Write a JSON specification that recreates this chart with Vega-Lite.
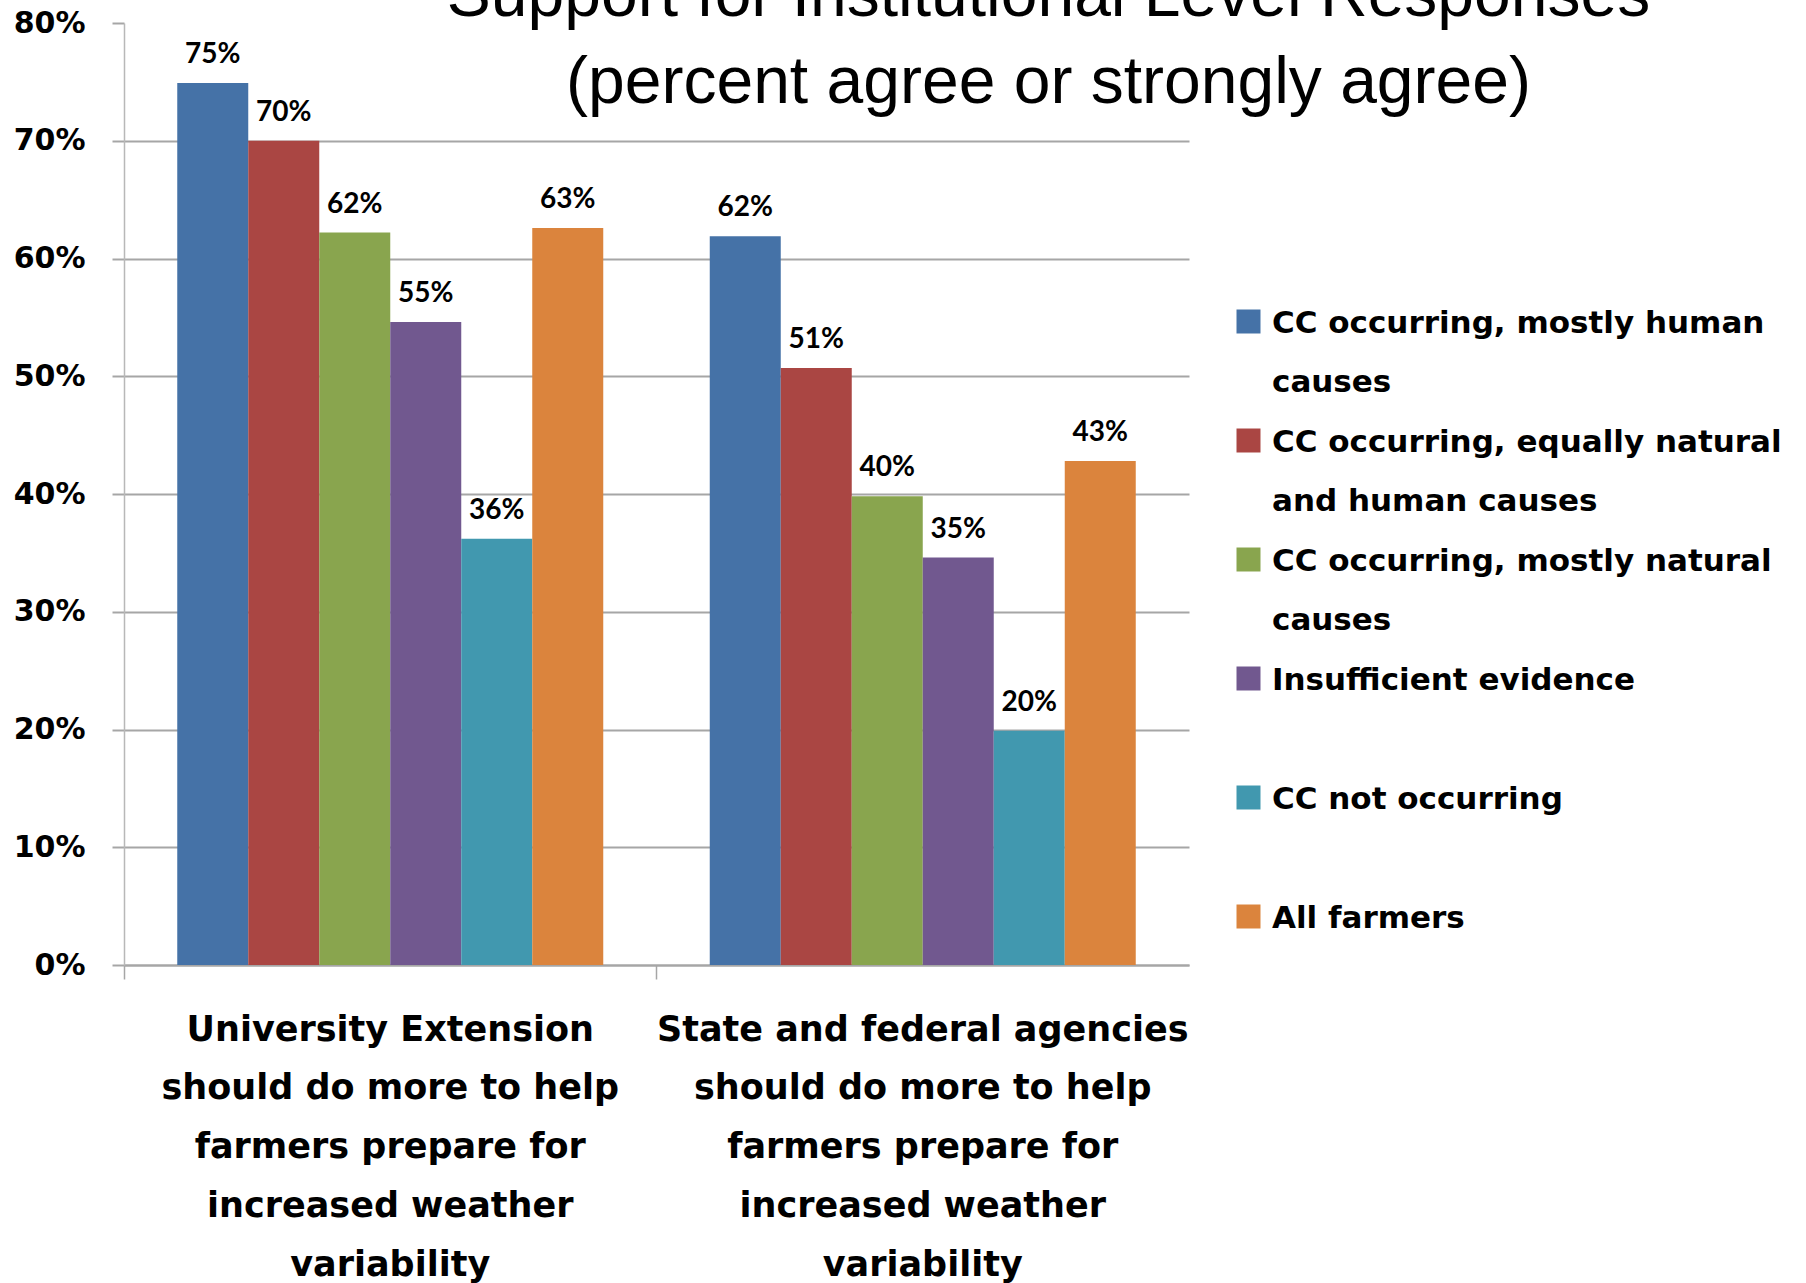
{
  "$schema": "https://vega.github.io/schema/vega-lite/v6.json",
  "autosize": {"type": "none"},
  "padding": {"left": 124, "top": 23, "right": 617, "bottom": 318},
  "width": 1065,
  "height": 942,
  "background": "white",
  "view": {"stroke": null},
  "title": {
    "text": ["Support for Institutional Level Responses", "(percent agree or strongly agree)"],
    "font": "Liberation Sans Narrow, Liberation Sans",
    "fontSize": 66,
    "fontWeight": "normal",
    "lineHeight": 87,
    "anchor": "middle",
    "frame": "group",
    "dx": 392,
    "baseline": "alphabetic",
    "offset": 0,
    "dy": 161,
    "color": "black"
  },
  "data": {
    "values": [
      {"group": "University Extension should do more to help farmers prepare for increased weather variability", "series": "CC occurring, mostly human causes", "value": 0.749},
      {"group": "University Extension should do more to help farmers prepare for increased weather variability", "series": "CC occurring, equally natural and human causes", "value": 0.700},
      {"group": "University Extension should do more to help farmers prepare for increased weather variability", "series": "CC occurring, mostly natural causes", "value": 0.622},
      {"group": "University Extension should do more to help farmers prepare for increased weather variability", "series": "Insufficient evidence", "value": 0.546},
      {"group": "University Extension should do more to help farmers prepare for increased weather variability", "series": "CC not occurring", "value": 0.362},
      {"group": "University Extension should do more to help farmers prepare for increased weather variability", "series": "All farmers", "value": 0.626},
      {"group": "State and federal agencies should do more to help farmers prepare for increased weather variability", "series": "CC occurring, mostly human causes", "value": 0.619},
      {"group": "State and federal agencies should do more to help farmers prepare for increased weather variability", "series": "CC occurring, equally natural and human causes", "value": 0.507},
      {"group": "State and federal agencies should do more to help farmers prepare for increased weather variability", "series": "CC occurring, mostly natural causes", "value": 0.398},
      {"group": "State and federal agencies should do more to help farmers prepare for increased weather variability", "series": "Insufficient evidence", "value": 0.346},
      {"group": "State and federal agencies should do more to help farmers prepare for increased weather variability", "series": "CC not occurring", "value": 0.199},
      {"group": "State and federal agencies should do more to help farmers prepare for increased weather variability", "series": "All farmers", "value": 0.428}
    ]
  },
  "encoding": {
    "x": {
      "field": "group",
      "type": "nominal",
      "sort": null,
      "scale": {"paddingInner": 0.2, "paddingOuter": 0.1},
      "axis": {
        "title": null,
        "labelAngle": 0,
        "bandPosition": -0.125,
        "tickSize": 14,
        "tickColor": "#a6a6a6",
        "tickWidth": 1.5,
        "domainColor": "#a6a6a6",
        "domainWidth": 2,
        "labelFont": "DejaVu Sans",
        "labelFontWeight": "bold",
        "labelFontSize": 35,
        "labelLineHeight": 58.8,
        "labelPadding": 33,
        "labelBaseline": "top",
        "labelAlign": "center",
        "labelColor": "black",
        "labelLimit": 1000,
        "labelExpr": "indexof(datum.label, 'University') == 0 ? ['University Extension', 'should do more to help', 'farmers prepare for', 'increased weather', 'variability'] : ['State and federal agencies', 'should do more to help', 'farmers prepare for', 'increased weather', 'variability']"
      }
    },
    "y": {
      "field": "value",
      "type": "quantitative",
      "scale": {"domain": [0, 0.8], "nice": false},
      "axis": {
        "title": null,
        "values": [0, 0.1, 0.2, 0.3, 0.4, 0.5, 0.6, 0.7, 0.8],
        "format": ".0%",
        "tickSize": 12,
        "tickColor": "#a6a6a6",
        "tickWidth": 2,
        "domainColor": "#b8b8b8",
        "domainWidth": 1.5,
        "grid": true,
        "gridColor": "#a6a6a6",
        "gridWidth": 2,
        "gridOpacity": {"condition": {"test": "datum.value >= 0.79", "value": 0}, "value": 1},
        "labelFont": "DejaVu Sans",
        "labelFontWeight": "bold",
        "labelFontSize": 30,
        "labelPadding": 27,
        "labelColor": "black"
      }
    }
  },
  "layer": [
    {
      "mark": {"type": "bar"},
      "encoding": {
        "xOffset": {
          "field": "series",
          "type": "nominal",
          "scale": {
            "domain": ["CC occurring, mostly human causes", "CC occurring, equally natural and human causes", "CC occurring, mostly natural causes", "Insufficient evidence", "CC not occurring", "All farmers"],
            "paddingInner": 0,
            "paddingOuter": 0
          }
        },
        "color": {
          "field": "series",
          "type": "nominal",
          "scale": {
            "domain": ["CC occurring, mostly human causes", "CC occurring, equally natural and human causes", "CC occurring, mostly natural causes", "Insufficient evidence", "CC not occurring", "All farmers"],
            "range": ["#4572A7", "#AA4643", "#89A54E", "#71588F", "#4198AF", "#DB843D"]
          },
          "legend": {
            "orient": "none",
            "legendX": 1109,
            "legendY": 283,
            "title": null,
            "padding": 0,
            "symbolType": "square",
            "symbolSize": 576,
            "symbolStrokeWidth": 0,
            "symbolOpacity": 1,
            "labelFont": "DejaVu Sans",
            "labelFontWeight": "bold",
            "labelFontSize": 31,
            "labelColor": "black",
            "labelOffset": 8,
            "labelLimit": 700,
            "rowPadding": 27,
            "labelExpr": "datum.label == 'CC occurring, mostly human causes' ? ['CC occurring, mostly human', 'causes'] : datum.label == 'CC occurring, equally natural and human causes' ? ['CC occurring, equally natural', 'and human causes'] : datum.label == 'CC occurring, mostly natural causes' ? ['CC occurring, mostly natural', 'causes'] : [datum.label, ' ']",
            "encode": {
              "labels": {"update": {"lineHeight": {"value": 59.5}, "dy": {"value": 2}}}
            }
          }
        }
      }
    },
    {
      "mark": {"type": "text", "font": "Lato", "fontWeight": "bold", "fontSize": 28, "baseline": "alphabetic", "dy": -20, "color": "black"},
      "encoding": {
        "xOffset": {
          "field": "series",
          "type": "nominal",
          "scale": {
            "domain": ["CC occurring, mostly human causes", "CC occurring, equally natural and human causes", "CC occurring, mostly natural causes", "Insufficient evidence", "CC not occurring", "All farmers"],
            "paddingInner": 0,
            "paddingOuter": 0
          }
        },
        "text": {"field": "value", "type": "quantitative", "format": ".0%"}
      }
    },
    {
      "data": {"values": [{"group": "State and federal agencies should do more to help farmers prepare for increased weather variability"}]},
      "mark": {"type": "rule", "color": "#a6a6a6", "strokeWidth": 1.5},
      "encoding": {
        "x": {"field": "group", "type": "nominal", "sort": null, "bandPosition": 1.125},
        "y": {"datum": 0},
        "y2": {"datum": -0.0119}
      }
    }
  ]
}
